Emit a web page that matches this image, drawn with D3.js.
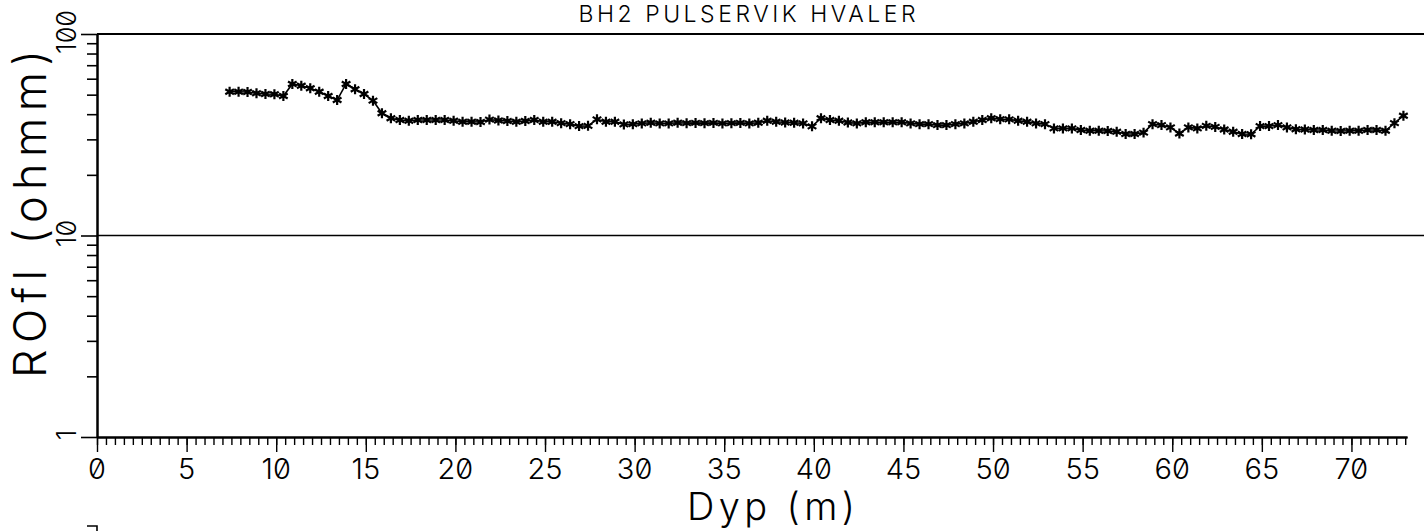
<!DOCTYPE html>
<html><head><meta charset="utf-8">
<script src="https://cdn.jsdelivr.net/npm/d3@7"></script>
<style>
html,body{margin:0;padding:0;background:#fff;}
svg{display:block;}
text{font-family:Inter,"DejaVu Sans",sans-serif;font-weight:300;font-feature-settings:"zero" 1;fill:#000;}
</style></head>
<body>
<svg id="c" width="1424" height="531"></svg>
<script>
const title = "BH2 PULSERVIK HVALER";
const xLabel = "Dyp (m)";
const yLabel = "ROfl (ohmm)";
const xTickLabels = [0,5,10,15,20,25,30,35,40,45,50,55,60,65,70];
const yTickLabels = [1,10,100];
const yMinorTicks = [2,3,4,5,6,7,8,9,20,30,40,50,60,70,80,90];
const depth = [7.4,7.9,8.4,8.9,9.4,9.9,10.4,10.9,11.4,11.9,12.4,12.9,13.4,13.9,14.4,14.9,15.4,15.9,16.4,16.9,
17.4,17.9,18.4,18.9,19.4,19.9,20.4,20.9,21.4,21.9,22.4,22.9,23.4,23.9,24.4,24.9,25.4,25.9,26.4,26.9,
27.4,27.9,28.4,28.9,29.4,29.9,30.4,30.9,31.4,31.9,32.4,32.9,33.4,33.9,34.4,34.9,35.4,35.9,36.4,36.9,
37.4,37.9,38.4,38.9,39.4,39.9,40.4,40.9,41.4,41.9,42.4,42.9,43.4,43.9,44.4,44.9,45.4,45.9,46.4,46.9,
47.4,47.9,48.4,48.9,49.4,49.9,50.4,50.9,51.4,51.9,52.4,52.9,53.4,53.9,54.4,54.9,55.4,55.9,56.4,56.9,
57.4,57.9,58.4,58.9,59.4,59.9,60.4,60.9,61.4,61.9,62.4,62.9,63.4,63.9,64.4,64.9,65.4,65.9,66.4,66.9,
67.4,67.9,68.4,68.9,69.4,69.9,70.4,70.9,71.4,71.9,72.4,72.9];
const rofl = [51.7,51.7,51.5,50.8,50.4,50.2,49.2,56.5,55.4,53.8,51.7,49.2,47.0,56.5,53.2,50.4,46.7,40.4,38.2,37.4,
37.1,37.4,37.4,37.4,37.4,37.1,36.7,36.7,36.6,37.6,37.2,37.0,36.7,37.0,37.4,36.7,36.7,36.1,35.7,34.9,
35.0,37.7,36.7,36.7,35.6,35.7,36.0,36.3,36.0,36.0,36.3,36.1,36.2,36.1,36.2,36.0,36.1,36.2,36.0,36.3,
37.1,36.7,36.4,36.3,36.0,34.8,38.2,37.4,37.1,36.4,36.0,36.5,36.5,36.5,36.5,36.5,36.0,35.7,35.7,35.3,
35.3,35.7,36.0,36.7,37.4,38.2,37.8,37.7,37.1,36.7,36.0,35.7,34.0,34.0,34.0,33.4,33.1,33.1,33.0,32.7,
31.9,31.9,32.4,35.7,35.3,34.4,32.1,34.4,34.0,35.0,34.6,33.6,32.7,31.9,31.8,34.9,34.9,35.3,34.4,33.7,
33.6,33.4,33.4,33.1,33.0,33.1,33.1,33.4,33.4,33.1,36.1,39.3];

const svg = d3.select("#c");
const x = d3.scaleLinear().domain([0, 73.1]).range([97, 1407]);
const y = d3.scaleLog().domain([1, 100]).range([437, 34]);

// frame lines
svg.append("line").attr("x1", x(0)).attr("x2", 1424).attr("y1", y(100)).attr("y2", y(100)).attr("stroke","#000").attr("stroke-width",2);
svg.append("line").attr("x1", x(0)).attr("x2", 1424).attr("y1", y(10)).attr("y2", y(10)).attr("stroke","#000").attr("stroke-width",1.6);

// x axis
const minorX = d3.range(0, 73.01, 0.5);
const gx = svg.append("g").attr("transform", `translate(0,${y(1)})`);
gx.call(d3.axisBottom(x).tickValues(minorX).tickSize(8).tickSizeOuter(0).tickFormat(""));
gx.append("g").call(d3.axisBottom(x).tickValues(xTickLabels).tickSize(15).tickSizeOuter(0).tickFormat(""));
gx.selectAll("path.domain").attr("stroke-width",2);
gx.selectAll("line").attr("stroke-width",1.4);
svg.append("g").selectAll("text").data(xTickLabels).join("text")
  .attr("x", d => x(d)).attr("y", 479).attr("text-anchor","middle")
  .attr("font-size", 29).text(d => d);

// y axis
const gy = svg.append("g").attr("transform", `translate(${x(0)},0)`);
gy.call(d3.axisLeft(y).tickValues(yMinorTicks).tickSize(10).tickSizeOuter(0).tickFormat(""));
gy.append("g").call(d3.axisLeft(y).tickValues(yTickLabels).tickSize(16).tickSizeOuter(0).tickFormat(""));
gy.selectAll("path.domain").attr("stroke-width",2);
gy.selectAll("line").attr("stroke-width",1.6);
svg.append("g").selectAll("text").data(yTickLabels).join("text")
  .attr("transform", d => `translate(76,${y(d) - 2}) rotate(-90)`)
  .attr("text-anchor","middle").attr("font-size", 27).text(d => d);

// titles
svg.append("text").attr("x", 747).attr("y", 22).attr("text-anchor","middle")
  .attr("font-size", 23).attr("textLength", 337).attr("lengthAdjust","spacing").text(title);
svg.append("text").attr("x", 771).attr("y", 520).attr("text-anchor","middle")
  .attr("font-size", 38).attr("font-weight", 200).attr("textLength", 168).attr("lengthAdjust","spacing").text(xLabel);
svg.append("text").attr("transform", "translate(46,214) rotate(-90)").attr("text-anchor","middle")
  .attr("font-size", 45).attr("font-weight", 200).attr("textLength", 328).attr("lengthAdjust","spacing").text(yLabel);

// small cut-off mark bottom-left
svg.append("path").attr("d","M87,526 H97 V531").attr("fill","none").attr("stroke","#000").attr("stroke-width",1.6);

// data
const pts = depth.map((d,i) => [d, rofl[i]]);
svg.append("path").datum(pts)
  .attr("d", d3.line().x(d => x(d[0])).y(d => y(d[1])))
  .attr("fill","none").attr("stroke","#000").attr("stroke-width",1.6);
const sym = d3.symbol(d3.symbolAsterisk, 70);
svg.append("g").selectAll("path").data(pts).join("path")
  .attr("transform", d => `translate(${x(d[0])},${y(d[1])})`)
  .attr("d", sym).attr("fill","none").attr("stroke","#000").attr("stroke-width",2.2);
</script>
</body></html>
